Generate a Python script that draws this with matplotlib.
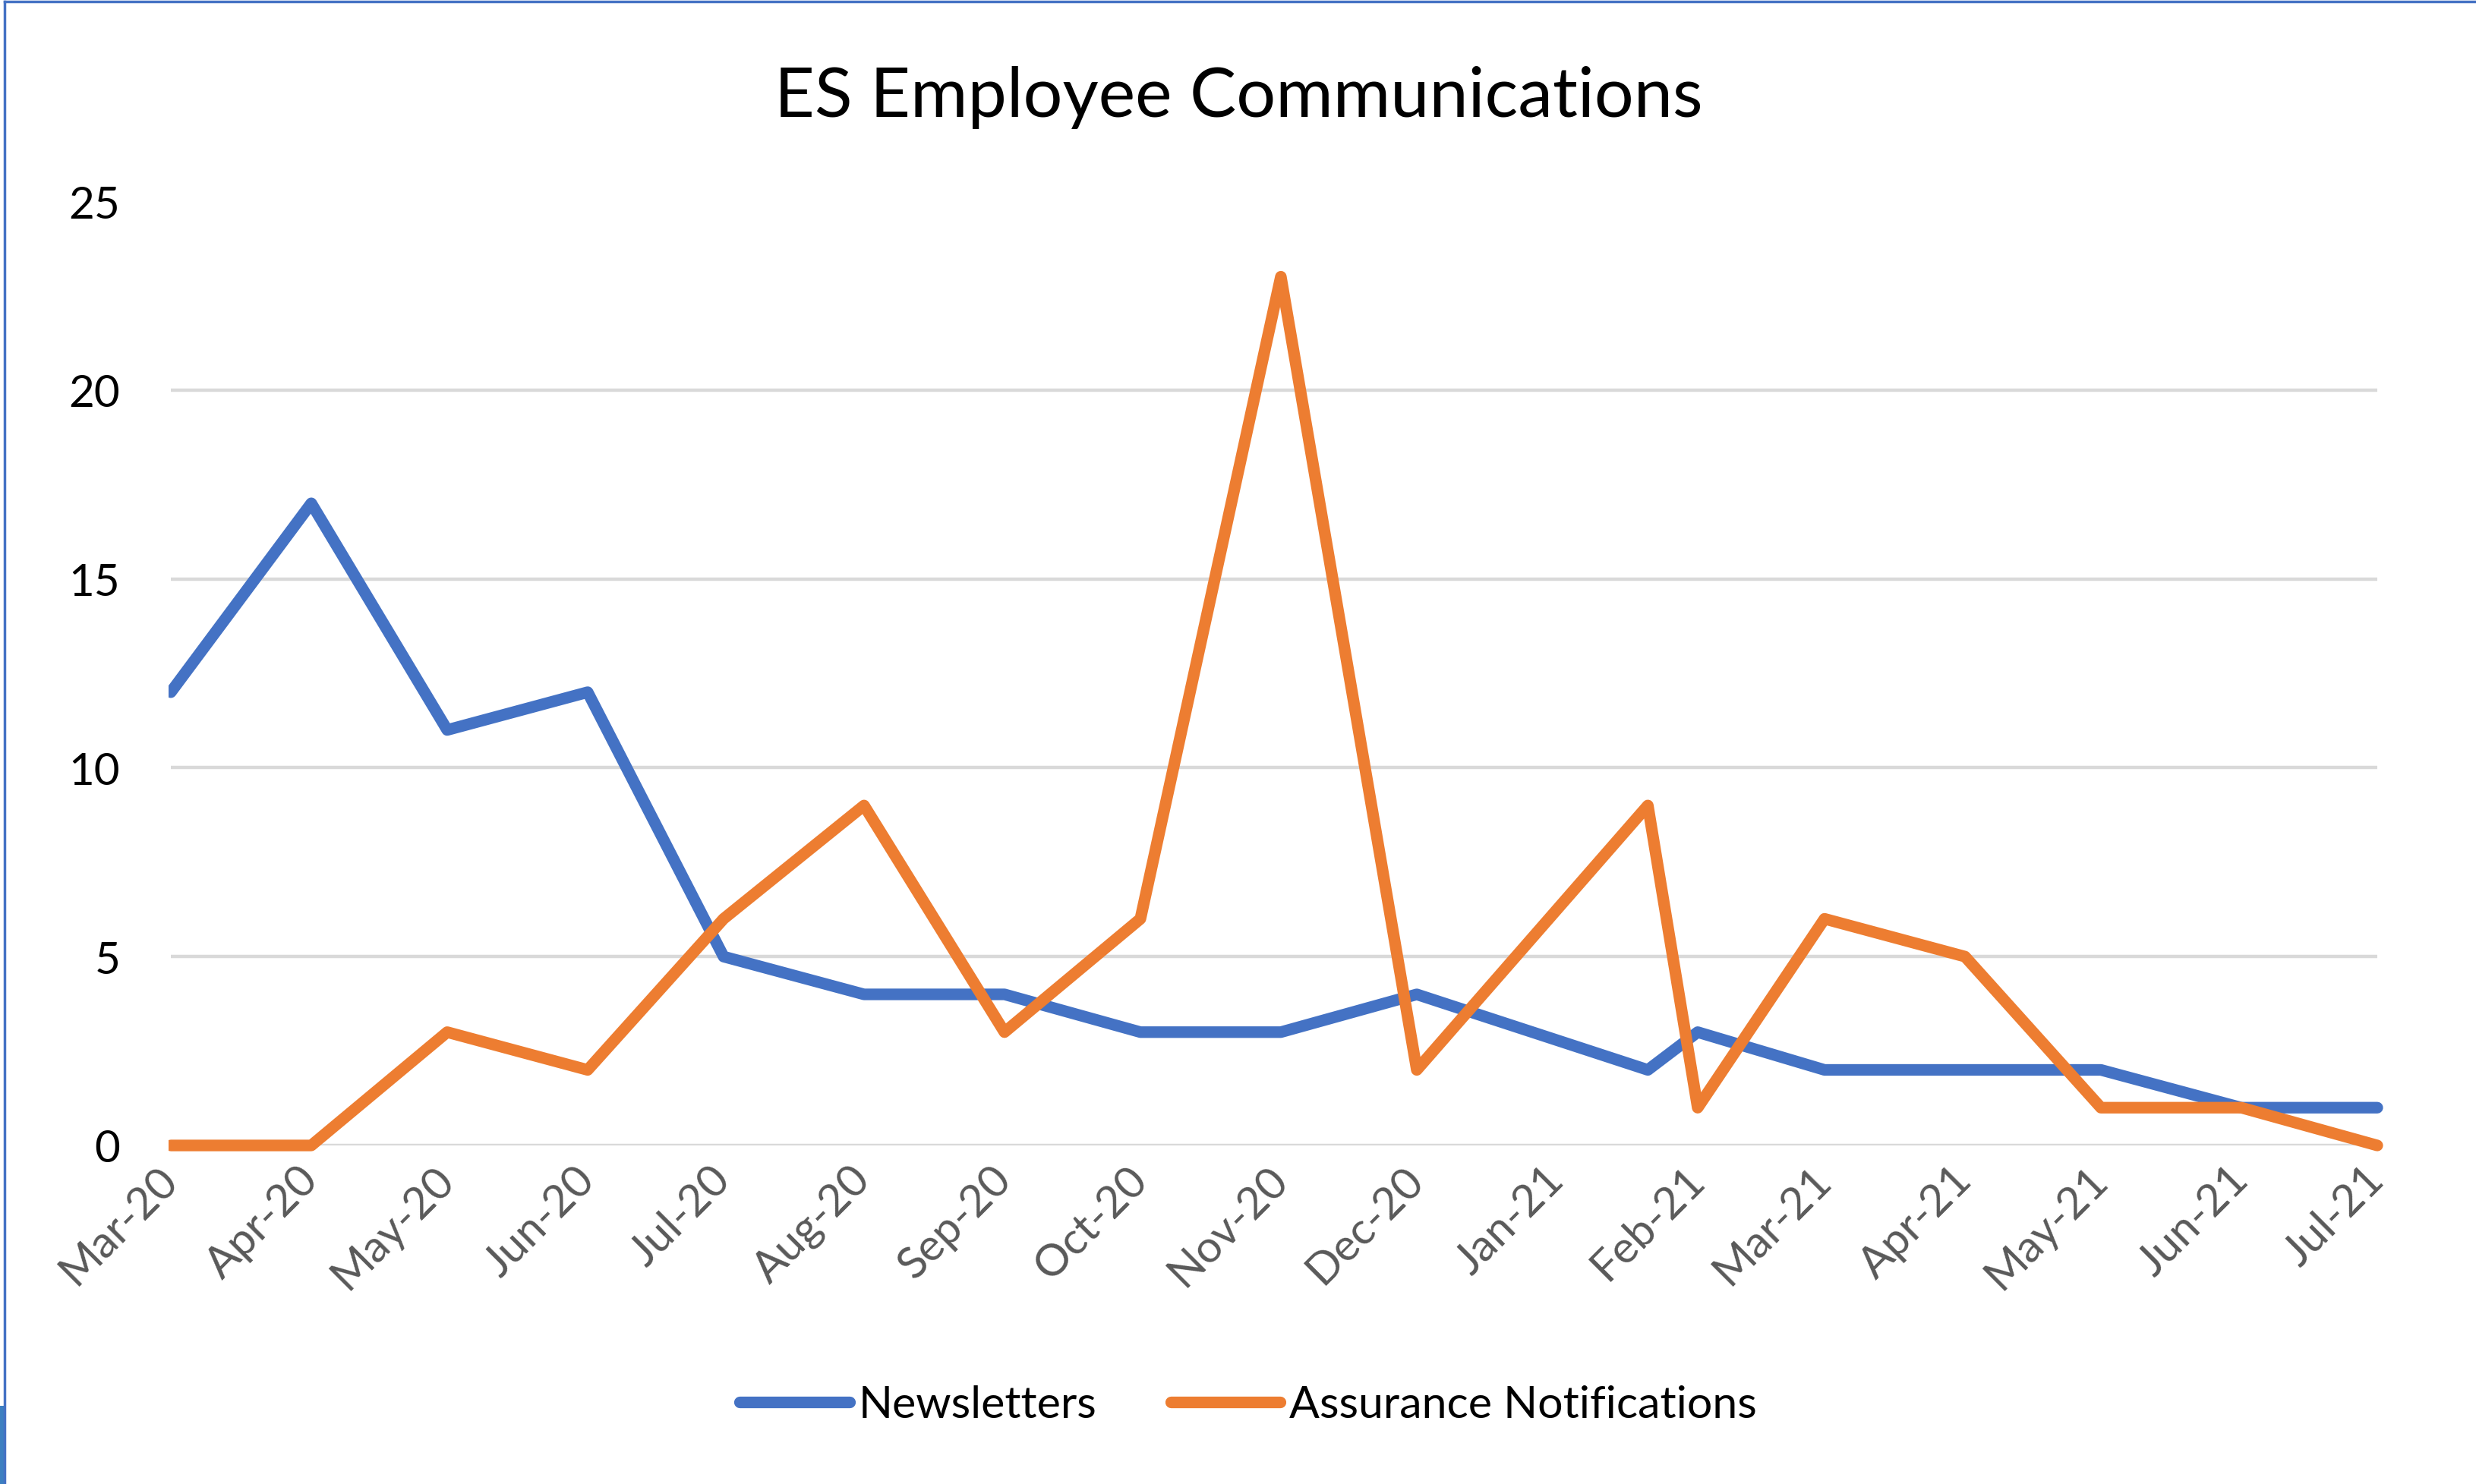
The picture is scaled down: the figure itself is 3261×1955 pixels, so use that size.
import matplotlib
matplotlib.use("Agg")
import matplotlib.pyplot as plt
import matplotlib.dates as mdates
from matplotlib.patches import Rectangle
from matplotlib.lines import Line2D
import numpy as np
import pandas as pd

# ---------------- data ----------------
dates = ["2020-03-01", "2020-04-01", "2020-05-01", "2020-06-01", "2020-07-01",
         "2020-08-01", "2020-09-01", "2020-10-01", "2020-11-01", "2020-12-01",
         "2021-01-21", "2021-02-01", "2021-03-01", "2021-04-01", "2021-05-01",
         "2021-06-01", "2021-07-01"]
newsletters = [12, 17, 11, 12, 5, 4, 4, 3, 3, 4, 2, 3, 2, 2, 2, 1, 1]
assurance = [0, 0, 3, 2, 6, 9, 3, 6, 23, 2, 9, 1, 6, 5, 1, 1, 0]
series_names = ["Newsletters", "Assurance Notifications"]
title = "ES Employee Communications"
y_ticks = [0, 5, 10, 15, 20, 25]

x = pd.to_datetime(dates)

W, H = 3262, 1956
DPI = 100
plt.rcParams['font.family'] = ['Lato', 'DejaVu Sans']

fig = plt.figure(figsize=(W / DPI, H / DPI), dpi=DPI)
fig.patch.set_facecolor('white')

left, right = 225 / W, 3131 / W
bottom, top = 1 - 1510 / H, 1 - 266 / H
ax = fig.add_axes([left, bottom, right - left, top - bottom])

blue = '#4472C4'
orange = '#ED7D31'
lw = 11

clip = Rectangle((-0.001, -0.05), 1.02, 1.1, transform=ax.transAxes,
                 facecolor='none', edgecolor='none')
l1, = ax.plot(x, newsletters, color=blue, lw=lw, solid_joinstyle='round',
              solid_capstyle='round', label=series_names[0], zorder=3)
l2, = ax.plot(x, assurance, color=orange, lw=lw, solid_joinstyle='round',
              solid_capstyle='round', label=series_names[1], zorder=4)
for ln in (l1, l2):
    ln.set_clip_path(clip)

ax.set_xlim(pd.Timestamp("2020-03-01"), pd.Timestamp("2021-07-01"))
ax.set_ylim(0, 25)
ax.set_yticks(y_ticks)

ax.xaxis.set_major_locator(mdates.MonthLocator())
ax.xaxis.set_major_formatter(mdates.DateFormatter('%b-%y'))

for s in ax.spines.values():
    s.set_visible(False)

ax.grid(axis='y', color='#D9D9D9', lw=3.2, zorder=0)
ax.grid(axis='x', visible=False)
ax.set_axisbelow(True)
gl = ax.yaxis.get_gridlines()
gl[-1].set_visible(False)

ax.tick_params(axis='y', length=0, pad=48, labelsize=42, labelcolor='black')
ax.tick_params(axis='x', length=0, pad=26, labelsize=42, labelcolor='#595959')
for lab in ax.get_xticklabels():
    lab.set_rotation(45)
    lab.set_ha('right')
    lab.set_va('center')
    lab.set_rotation_mode('anchor')

fig.text(0.5, 1 - 154 / H, title, ha='center', va='baseline', fontsize=66,
         color='black')

leg = fig.legend(handles=[l1, l2], labels=series_names, loc='center',
                 bbox_to_anchor=(1644 / W, 1 - 1852 / H), ncol=2, frameon=False,
                 fontsize=42.5, handlelength=2.45, handletextpad=0.2,
                 columnspacing=1.65)
for t in leg.get_texts():
    t.set_color('black')

# window border artefacts
fig.add_artist(Line2D([6 / W, 1], [1 - 3 / H, 1 - 3 / H], transform=fig.transFigure,
                      color=blue, lw=2.5))
fig.add_artist(Line2D([6 / W, 6 / W], [0, 1 - 3 / H], transform=fig.transFigure,
                      color=blue, lw=2.5))
fig.add_artist(Rectangle((0, 0), 6 / W, (H - 1853) / H, transform=fig.transFigure,
                         facecolor='#3C7FC1', edgecolor='none'))

fig.savefig('out.png', dpi=DPI, facecolor='white')
